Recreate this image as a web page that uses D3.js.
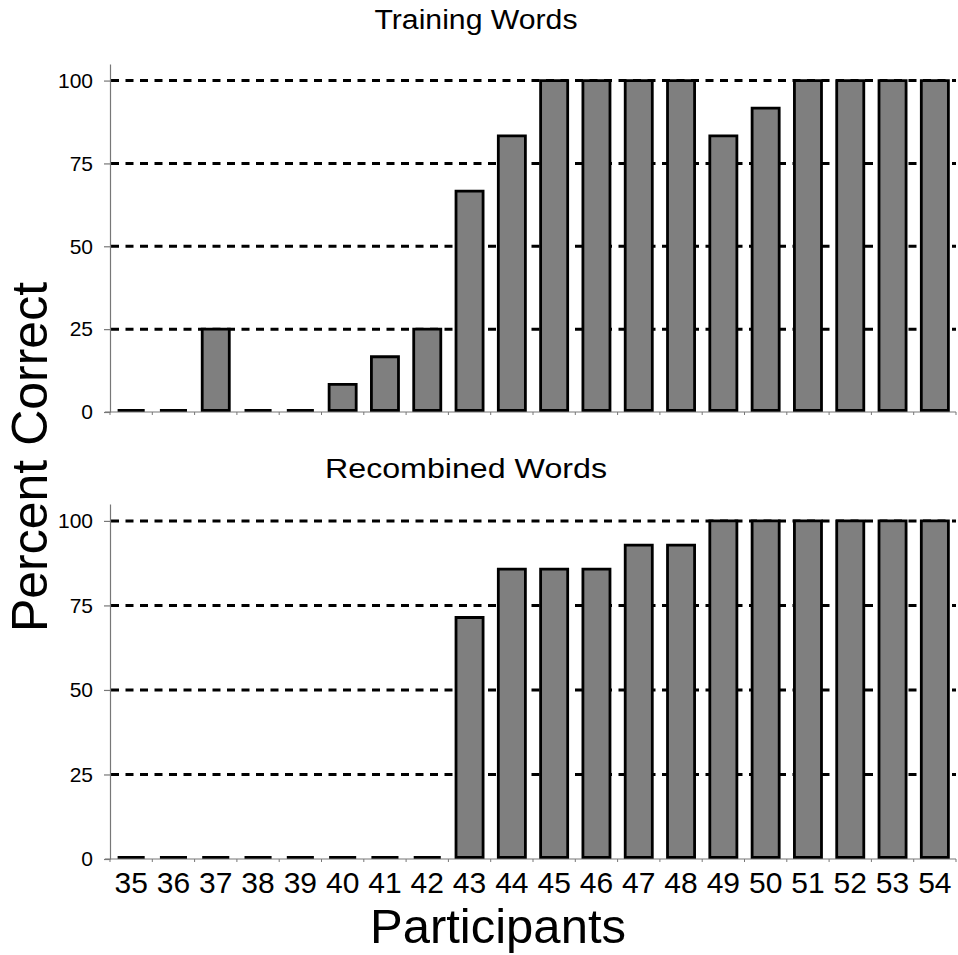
<!DOCTYPE html>
<html>
<head>
<meta charset="utf-8">
<script src="https://cdn.jsdelivr.net/npm/d3@7"></script>
<style>
  html, body { margin: 0; padding: 0; background: #fff; }
  svg { display: block; font-family: "Liberation Sans", Arial, sans-serif; }
</style>
</head>
<body>
<svg id="chart" width="958" height="955"></svg>
<script>
// Participants on the x axis
const participants = ["35","36","37","38","39","40","41","42","43","44","45","46","47","48","49","50","51","52","53","54"];
// Percent correct, training words
const trainingValues = [0, 0, 25, 0, 0, 8.33, 16.67, 25, 66.67, 83.33, 100, 100, 100, 100, 83.33, 91.67, 100, 100, 100, 100];
// Percent correct, recombined words
const recombinedValues = [0, 0, 0, 0, 0, 0, 0, 0, 71.43, 85.71, 85.71, 85.71, 92.86, 92.86, 100, 100, 100, 100, 100, 100];
// Y axis tick values
const yTicks = [0, 25, 50, 75, 100];

const panels = [
  { title: "Training Words", values: trainingValues, y0: 412, yTop: 64, titleX: 476, titleY: 29, titleLen: 203 },
  { title: "Recombined Words", values: recombinedValues, y0: 859, yTop: 504, titleX: 466, titleY: 478, titleLen: 282 }
];

const svg = d3.select("#chart");
const xLeft = 110, xRight = 956;

const x = d3.scaleBand()
  .domain(participants)
  .range([xLeft, xRight])
  .paddingInner(0.36)
  .paddingOuter(0.18);

// Band edges for the little category ticks
const step = x.step();

panels.forEach((p, pi) => {
  const y = d3.scaleLinear().domain([0, 105]).range([p.y0, p.yTop]);
  const g = svg.append("g");

  // dashed gridlines
  g.append("g").selectAll("line")
    .data(yTicks.filter(d => d > 0))
    .join("line")
    .attr("x1", xLeft + 1)
    .attr("x2", xRight)
    .attr("y1", d => y(d))
    .attr("y2", d => y(d))
    .attr("stroke", "#000")
    .attr("stroke-width", 3)
    .attr("stroke-dasharray", "8,6.5");

  // bars drawn as closed paths so zero values still show as a line
  g.append("g").selectAll("path")
    .data(p.values)
    .join("path")
    .attr("d", (d, i) => {
      const x0 = x(participants[i]), x1 = x0 + x.bandwidth();
      const yb = y(0) - 1.5, yt = Math.min(y(d), yb);
      return `M${x0},${yb}V${yt}H${x1}V${yb}Z`;
    })
    .attr("fill", "#7f7f7f")
    .attr("stroke", "#000")
    .attr("stroke-width", 2.8)
    .attr("stroke-linejoin", "miter");

  // y axis
  const yAxis = d3.axisLeft(y).tickValues(yTicks).tickSize(6).tickPadding(11).tickSizeOuter(0);
  const ya = g.append("g").attr("transform", `translate(${xLeft},0)`).call(yAxis);
  ya.select(".domain").attr("stroke", "#777").attr("stroke-width", 1.2);
  ya.selectAll(".tick line").attr("stroke", "#777").attr("stroke-width", 1.2);
  ya.selectAll(".tick text")
    .attr("font-size", 21)
    .attr("fill", "#000")
    .attr("font-family", "Liberation Sans, Arial, sans-serif");

  // x axis line with small ticks at band boundaries
  g.append("line")
    .attr("x1", xLeft - 5).attr("x2", xRight)
    .attr("y1", y(0)).attr("y2", y(0))
    .attr("stroke", "#777").attr("stroke-width", 1.2);
  g.append("g").selectAll("line")
    .data(d3.range(participants.length + 1))
    .join("line")
    .attr("x1", i => xLeft + i * step)
    .attr("x2", i => xLeft + i * step)
    .attr("y1", y(0))
    .attr("y2", y(0) + 3)
    .attr("stroke", "#777").attr("stroke-width", 1);

  // panel title
  g.append("text")
    .attr("x", p.titleX)
    .attr("y", p.titleY)
    .attr("text-anchor", "middle")
    .attr("font-size", 27)
    .attr("textLength", p.titleLen)
    .attr("lengthAdjust", "spacingAndGlyphs")
    .text(p.title);

  // category labels below the lower panel
  if (pi === 1) {
    g.append("g").selectAll("text")
      .data(participants)
      .join("text")
      .attr("x", d => x(d) + x.bandwidth() / 2)
      .attr("y", 893)
      .attr("text-anchor", "middle")
      .attr("font-size", 30)
      .text(d => d);
  }
});

// shared axis titles
svg.append("text")
  .attr("transform", "translate(47,457) rotate(-90)")
  .attr("text-anchor", "middle")
  .attr("font-size", 50)
  .text("Percent Correct");

svg.append("text")
  .attr("x", 498)
  .attr("y", 943)
  .attr("text-anchor", "middle")
  .attr("font-size", 49)
  .text("Participants");
</script>
</body>
</html>
